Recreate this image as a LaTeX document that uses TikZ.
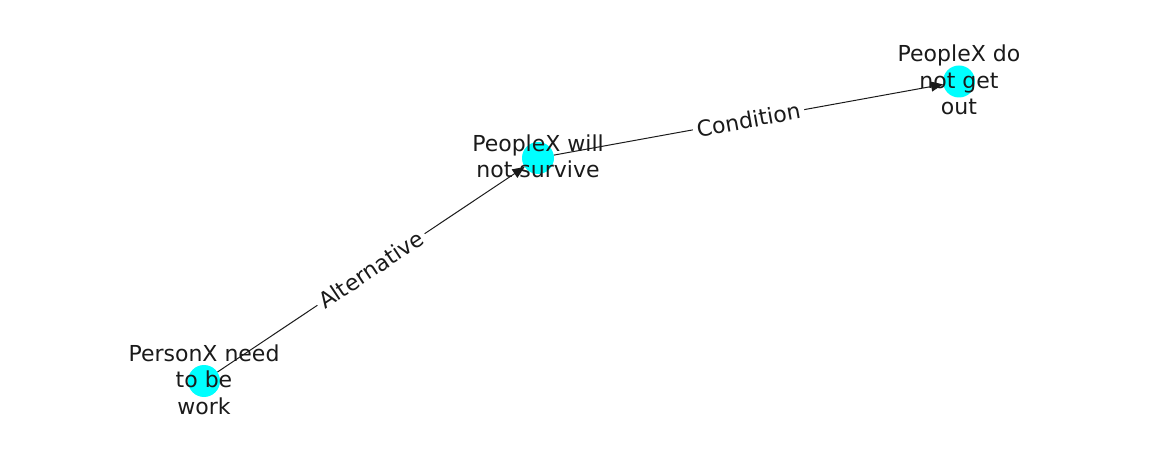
\documentclass[tikz,border=0pt]{standalone}
\usepackage{fontspec}
\setmainfont{DejaVu Sans}
\usetikzlibrary{arrows.meta}
\definecolor{nodecyan}{RGB}{0,255,255}
\definecolor{inkgray}{RGB}{26,26,26}
\begin{document}
\begin{tikzpicture}[x=1pt,y=-1pt,
  dot/.style={circle,fill=nodecyan,draw=none,minimum size=32pt,inner sep=0pt},
  lbl/.style={align=center,text=inkgray,font=\fontsize{22}{26.4}\selectfont,inner sep=0pt},
  edge/.style={draw=inkgray,line width=1pt,-{Triangle[length=12pt,width=10pt]}},
  elbl/.style={fill=white,text=inkgray,font=\fontsize{22}{26.4}\selectfont,inner sep=4pt,sloped,midway}]
\useasboundingbox (0,0) rectangle (1162,462);
\node[dot] (a) at (204,381) {};
\node[dot] (b) at (538,158) {};
\node[dot] (c) at (959,81.5) {};
\node[lbl] (ta) at (204,379.5) {PersonX need\\to be\\work};
\node[lbl] (tb) at (538,156.5) {PeopleX will\\not survive};
\node[lbl] (tc) at (959,80) {PeopleX do\\not get\\out};
\draw[edge] (a) -- (b) node[elbl] (la) {Alternative};
\draw[edge] (b) -- (c) node[elbl] (lb) {Condition};
\end{tikzpicture}
\end{document}
